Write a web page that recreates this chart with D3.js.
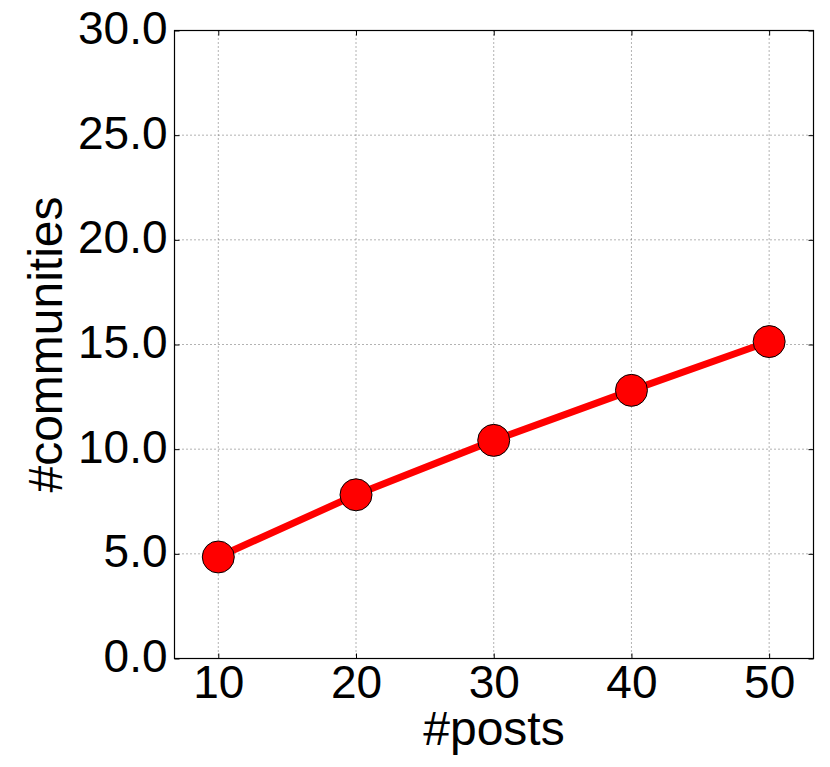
<!DOCTYPE html>
<html>
<head>
<meta charset="utf-8">
<script src="https://cdn.jsdelivr.net/npm/d3@7"></script>
<style>
  body { margin: 0; background: #fff; }
  text { font-family: "Liberation Sans", Arial, sans-serif; fill: #000; }
</style>
</head>
<body>
<div id="chart"></div>
<script>
// data
var posts = [10, 20, 30, 40, 50];
var communities = [4.85, 7.82, 10.42, 12.81, 15.14];
var xTicks = [10, 20, 30, 40, 50];
var yTicks = [0, 5, 10, 15, 20, 25, 30];

var W = 830, H = 767;
var margin = {top: 30.5, right: 16.5, bottom: 108.5, left: 174.5},
    width = W - margin.left - margin.right,
    height = H - margin.top - margin.bottom;

var svg = d3.select("#chart").append("svg")
    .attr("width", W)
    .attr("height", H);

var g = svg.append("g")
    .attr("transform", "translate(" + margin.left + "," + margin.top + ")");

var x = d3.scaleLinear().domain([6.82, 53.22]).range([0, width]);
var y = d3.scaleLinear().domain([0, 30]).range([height, 0]);

// dotted grid
g.selectAll(".vgrid").data(xTicks).enter().append("line")
    .attr("x1", function(d) { return x(d); })
    .attr("x2", function(d) { return x(d); })
    .attr("y1", 0).attr("y2", height)
    .attr("stroke", "#666").attr("stroke-width", 1)
    .attr("stroke-dasharray", "1,3");

g.selectAll(".hgrid").data(yTicks.slice(1, -1)).enter().append("line")
    .attr("y1", function(d) { return y(d); })
    .attr("y2", function(d) { return y(d); })
    .attr("x1", 0).attr("x2", width)
    .attr("stroke", "#666").attr("stroke-width", 1)
    .attr("stroke-dasharray", "1,3");

// axes, ticks pointing inward on all four sides
var fmtY = d3.format(".1f");
var xAxis = g.append("g")
    .attr("transform", "translate(0," + height + ")")
    .call(d3.axisBottom(x).tickValues(xTicks).tickSizeInner(-5).tickSizeOuter(0).tickPadding(0));
xAxis.selectAll("text")
    .attr("y", 39).attr("dy", null)
    .style("font-size", "46px");

var yAxis = g.append("g")
    .call(d3.axisLeft(y).tickValues(yTicks).tickFormat(fmtY).tickSizeInner(-5).tickSizeOuter(0).tickPadding(0));
yAxis.selectAll("text")
    .attr("x", -7).attr("dy", "0.28em")
    .style("font-size", "46px");

g.append("g")
    .call(d3.axisTop(x).tickValues(xTicks).tickSizeInner(-5).tickSizeOuter(0).tickFormat(""));
g.append("g")
    .attr("transform", "translate(" + width + ",0)")
    .call(d3.axisRight(y).tickValues(yTicks).tickSizeInner(-5).tickSizeOuter(0).tickFormat(""));

g.selectAll(".domain").remove();
g.selectAll(".tick line").attr("stroke", "#000");

// frame
g.append("rect")
    .attr("width", width).attr("height", height)
    .attr("fill", "none").attr("stroke", "#000").attr("stroke-width", 1.2);

// series
var pts = posts.map(function(p, i) { return [p, communities[i]]; });
var line = d3.line()
    .x(function(d) { return x(d[0]); })
    .y(function(d) { return y(d[1]); });

g.append("path")
    .datum(pts)
    .attr("d", line)
    .attr("fill", "none")
    .attr("stroke", "#ff0000")
    .attr("stroke-width", 7);

g.selectAll(".dot").data(pts).enter().append("circle")
    .attr("cx", function(d) { return x(d[0]); })
    .attr("cy", function(d) { return y(d[1]); })
    .attr("r", 16)
    .attr("fill", "#ff0000")
    .attr("stroke", "#000")
    .attr("stroke-width", 1);

// axis labels
svg.append("text")
    .attr("x", margin.left + width / 2)
    .attr("y", 745)
    .attr("text-anchor", "middle")
    .style("font-size", "48px")
    .text("#posts");

svg.append("text")
    .attr("transform", "translate(62," + (margin.top + height / 2) + ") rotate(-90)")
    .attr("text-anchor", "middle")
    .style("font-size", "48px")
    .text("#communities");
</script>
</body>
</html>
